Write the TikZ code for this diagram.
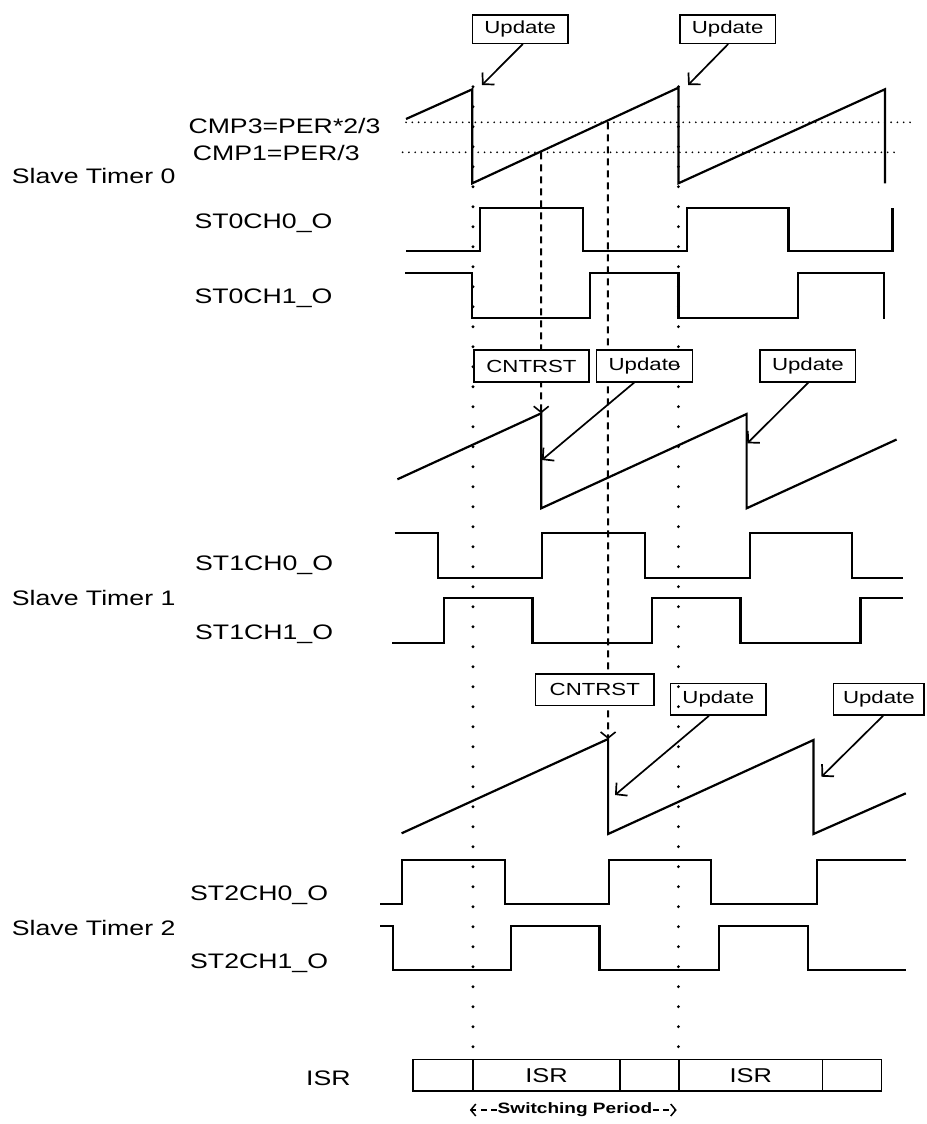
\documentclass[tikz,border=0pt]{standalone}
\usepackage{fontspec}
\setmainfont{Liberation Sans}[FakeStretch=1.27]
\usetikzlibrary{arrows.meta}
\begin{document}
\begin{tikzpicture}[x=1pt,y=-1pt,
  sig/.style={line width=2.2pt, line join=miter},
  vdots/.style={line width=3.2pt, line cap=round, dash pattern=on 0pt off 20pt},
  hdots/.style={line width=1.9pt, line cap=round, dash pattern=on 0pt off 6.3pt},
  dsh/.style={line width=2pt, dash pattern=on 7pt off 5pt, -{Straight Barb[length=6pt,width=15pt,line width=1.6pt]}},
  lbl/.style={anchor=base west, inner sep=0pt, font=\fontsize{21}{24}\selectfont},
  tbox/.style={draw, fill=white, line width=1.4pt, inner sep=0pt, font=\fontsize{17.5}{20}\selectfont},
  upd/.style={line width=1.7pt, -{Straight Barb[length=8pt,width=17pt]}},
  cell/.style={draw, line width=1.5pt, inner sep=0pt, minimum height=31.7pt, font=\fontsize{20}{24}\selectfont},
  sp/.style={line width=1.5pt, dash pattern=on 6pt off 4.5pt, -{Straight Barb[length=5pt,width=12pt]}}
]
\useasboundingbox (0,0) rectangle (926,1124);

% ---------- left labels ----------
\node[lbl] (cmp3) at (188.3,133.3) {CMP3=PER*2/3};
\node[lbl] (cmp1) at (192.7,160) {CMP1=PER/3};
\node[lbl] (st0) at (11.7,183.3) {Slave Timer 0};
\node[lbl] (s00) at (194.3,228.3) {ST0CH0\_O};
\node[lbl] (s01) at (194.3,303.3) {ST0CH1\_O};
\node[lbl] (s10) at (195,570) {ST1CH0\_O};
\node[lbl] (st1) at (11.7,605) {Slave Timer 1};
\node[lbl] (s11) at (195,639) {ST1CH1\_O};
\node[lbl] (s20) at (190,900) {ST2CH0\_O};
\node[lbl] (st2) at (11.7,935) {Slave Timer 2};
\node[lbl] (s21) at (190,968) {ST2CH1\_O};
\node[lbl] (isrl) at (306,1085) {ISR};

% ---------- compare levels ----------
\coordinate (c3a) at (406,122.3);
\coordinate (c3b) at (914.5,122.3);
\coordinate (c1a) at (402.6,152.3);
\coordinate (c1b) at (897,152.3);
\draw[hdots] (c3a) -- (c3b);
\draw[hdots] (c1a) -- (c1b);

% ---------- dashed reset lines (behind boxes) ----------
\coordinate (d1top) at (541,152.3);
\coordinate (d1end) at (541.2,413.3);
\coordinate (d2top) at (607.8,122.3);
\coordinate (d2end) at (608.1,739);
\draw[dsh] (d1top) -- (d1end);
\draw[dsh] (d2top) -- (d2end);

% ---------- label boxes ----------
\node[tbox, minimum width=95.7pt, minimum height=28.3pt] (u1) at (520.2,29.2) {Update};
\node[tbox, minimum width=95.1pt, minimum height=28.3pt] (u2) at (727.7,29.2) {Update};
\node[tbox, minimum width=114.9pt, minimum height=31.7pt] (cr1) at (531.5,366) {CNTRST};
\node[tbox, minimum width=95.7pt, minimum height=31.7pt] (u3) at (644.5,366) {Update};
\node[tbox, minimum width=95.7pt, minimum height=31.7pt] (u4) at (807.9,366) {Update};
\node[tbox, minimum width=118.4pt, minimum height=31.7pt] (cr2) at (594.8,689.9) {CNTRST};
\node[tbox, minimum width=95.1pt, minimum height=31.7pt] (u5) at (718.3,699.2) {Update};
\node[tbox, minimum width=90.3pt, minimum height=31.7pt] (u6) at (878.9,699.2) {Update};

% ---------- Slave Timer 0 ----------
\draw[sig] (406,119) -- (472.3,89.3) -- (472.3,183.3) -- (678.4,87.7) -- (678.4,183.3)
  -- (884.9,89.3) -- (884.9,183.3);
\draw[sig] (406,251) -- (480.3,251) -- (480.3,208.3) -- (582.6,208.3) -- (582.6,251)
  -- (687.1,251) -- (687.1,208.3) -- (788.4,208.3) -- (788.4,251) -- (892.5,251) -- (892.5,208.3);
\draw[sig] (405.4,273.3) -- (471.9,273.3) -- (471.9,317.7) -- (589.6,317.7) -- (589.6,273.3)
  -- (678.4,273.3) -- (678.4,317.7) -- (797.8,317.7) -- (797.8,273.3) -- (883.8,273.3) -- (883.8,318.7);

% ---------- Slave Timer 1 ----------
\draw[sig] (397.4,479.3) -- (541.2,413.3) -- (541.2,508.3) -- (746.6,414) -- (746.6,508.3) -- (896.6,439.5);
\draw[sig] (394.6,533.3) -- (438.1,533.3) -- (438.1,578.3) -- (541.9,578.3) -- (541.9,533.3)
  -- (645.3,533.3) -- (645.3,578.3) -- (749.8,578.3) -- (749.8,533.3) -- (851.8,533.3)
  -- (851.8,578.3) -- (903.3,578.3);
\draw[sig] (392.2,643.3) -- (443.7,643.3) -- (443.7,598.3) -- (532.5,598.3) -- (532.5,643.3)
  -- (652.3,643.3) -- (652.3,598.3) -- (740.4,598.3) -- (740.4,643.3) -- (860.5,643.3)
  -- (860.5,598.3) -- (903.3,598.3);

% ---------- Slave Timer 2 ----------
\draw[sig] (401.6,833.3) -- (608.1,739) -- (608.1,834) -- (813.5,740) -- (813.5,834) -- (905.8,793.3);
\draw[sig] (380,904.3) -- (401.9,904.3) -- (401.9,860) -- (504.7,860) -- (504.7,904.3)
  -- (608.8,904.3) -- (608.8,860) -- (710.8,860) -- (710.8,904.3) -- (817,904.3)
  -- (817,860) -- (905.8,860);
\draw[sig] (380,926) -- (392.9,926) -- (392.9,970) -- (510.6,970) -- (510.6,926)
  -- (599.4,926) -- (599.4,970) -- (718.8,970) -- (718.8,926) -- (807.6,926)
  -- (807.6,970) -- (905.8,970);

% ---------- ISR row ----------
\node[cell, minimum width=60pt] (i1) at (443,1075.2) {};
\node[cell, minimum width=147pt] (i2) at (546.5,1075.2) {ISR};
\node[cell, minimum width=59pt] (i3) at (649.5,1075.2) {};
\node[cell, minimum width=143.6pt] (i4) at (750.7,1075.2) {ISR};
\node[cell, minimum width=59.1pt] (i5) at (852.05,1075.2) {};

% ---------- vertical dotted period lines ----------
\coordinate (p1top) at (473,86.7);
\coordinate (p2top) at (678.4,86.7);
\coordinate (p1bot) at (473,1059.3);
\coordinate (p2bot) at (678.4,1059.3);
\draw[vdots] (p1top) -- (p1bot);
\draw[vdots] (p2top) -- (p2bot);

% ---------- update arrows ----------
\coordinate (t1) at (482,85);
\coordinate (t2) at (688.1,85);
\coordinate (t3) at (541.9,460);
\coordinate (t4) at (747.3,443.3);
\coordinate (t5) at (615,795);
\coordinate (t6) at (821.5,776.7);
\draw[upd] ([xshift=2.6pt]u1.south) -- (t1);
\draw[upd] ([xshift=0.5pt]u2.south) -- (t2);
\draw[upd] ([xshift=-10.3pt]u3.south) -- (t3);
\draw[upd] ([xshift=0.4pt]u4.south) -- (t4);
\draw[upd] ([xshift=-9.3pt]u5.south) -- (t5);
\draw[upd] ([xshift=4.2pt]u6.south) -- (t6);

% ---------- switching period ----------
\node[inner sep=0.5pt, font=\bfseries\fontsize{15}{17}\selectfont] (swp) at (575,1110) {Switching Period};
\coordinate (spl) at (469.8,1110);
\coordinate (spr) at (676.7,1110);
\draw[sp] (swp.west) -- (spl);
\draw[sp] (swp.east) -- (spr);
\end{tikzpicture}
\end{document}
